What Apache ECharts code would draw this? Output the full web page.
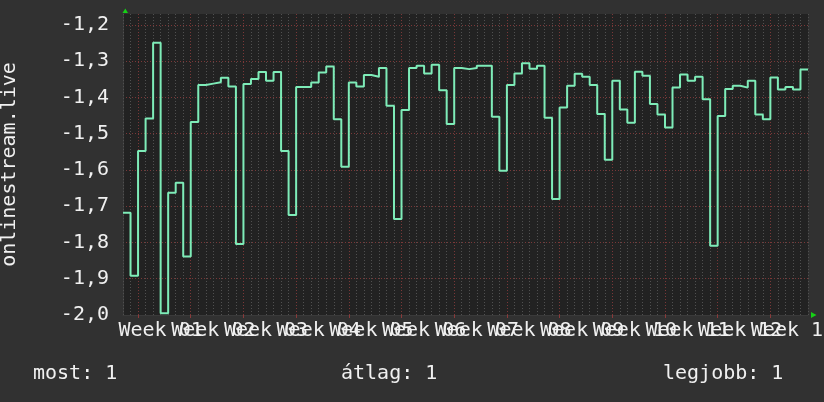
<!DOCTYPE html>
<html>
<head>
<meta charset="utf-8">
<script src="https://cdn.jsdelivr.net/npm/echarts@6/dist/echarts.min.js"></script>
<style>
  html, body { margin: 0; padding: 0; background: #313131; }
  #chart { width: 824px; height: 402px; }
</style>
</head>
<body>
<div id="chart"></div>
<script>
// ---- data ----
// day boundaries (92 boundaries for 91 daily samples)
const days = Array.from({ length: 92 }, (_, i) => String(i));
// weekly labels
const weekLabels = ['Week 01', 'Week 02', 'Week 03', 'Week 04', 'Week 05', 'Week 06', 'Week 07',
  'Week 08', 'Week 09', 'Week 10', 'Week 11', 'Week 12', 'Week 13'];
// daily values
const values = [
  -1.718, -1.892, -1.548, -1.458, -1.249, -1.995, -1.663, -1.635, -1.839, -1.468,
  -1.366, -1.362, -1.358, -1.346, -1.370, -1.804, -1.363, -1.349, -1.330, -1.354,
  -1.330, -1.548, -1.724, -1.371, -1.371, -1.359, -1.331, -1.315, -1.460, -1.591,
  -1.359, -1.370, -1.338, -1.343, -1.319, -1.423, -1.735, -1.435, -1.319, -1.313,
  -1.334, -1.310, -1.380, -1.473, -1.319, -1.322, -1.319, -1.313, -1.313, -1.453,
  -1.602, -1.366, -1.334, -1.306, -1.321, -1.313, -1.456, -1.680, -1.428, -1.368,
  -1.335, -1.343, -1.366, -1.446, -1.572, -1.354, -1.433, -1.470, -1.329, -1.340,
  -1.418, -1.447, -1.483, -1.373, -1.337, -1.354, -1.343, -1.405, -1.809, -1.451,
  -1.377, -1.368, -1.373, -1.354, -1.447, -1.460, -1.345, -1.378, -1.371, -1.378,
  -1.323
];
// y axis ticks
const yMin = -2.0, yMax = -1.17, yStep = 0.1;
// footer texts
const footerLabels = ['most:', 'átlag:', 'legjobb:'];
const footerValues = ['1', '1', '1'];
const seriesName = 'onlinestream.live';

// ---- layout / style ----
const FONT = 'DejaVu Sans Mono';
const gridL = 123, gridT = 14, gridR = 808, gridB = 315;
const firstWeekIdx = 2, weekLen = 7, labelShift = 3;
const isMajor = (i) => i >= firstWeekIdx && (i - firstWeekIdx) % weekLen === 0;
// label sits mid-week; odd/even weeks go to separate axes so they never collide in layout
const weekOf = (i) => {
  const d = i - firstWeekIdx - labelShift;
  return d >= 0 && d % weekLen === 0 ? d / weekLen : -1;
};
const isLabelParity = (i, parity) => { const w = weekOf(i); return w >= 0 && w < weekLabels.length && w % 2 === parity; };

const chart = echarts.init(document.getElementById('chart'), null, { renderer: 'canvas' });

const stepData = values.concat([values[values.length - 1]]);

const labelStyle = {
  color: '#f0f0f0', fontFamily: FONT, fontSize: 20, margin: 6, align: 'center',
  formatter: (v) => weekLabels[weekOf(Number(v))] || ''
};

chart.setOption({
  backgroundColor: '#313131',
  animation: false,
  grid: {
    left: gridL, top: gridT, right: 824 - gridR, bottom: 402 - gridB,
    show: true, backgroundColor: '#222222', borderWidth: 0,
    containLabel: false, outerBoundsMode: 'none'
  },
  xAxis: [
    {
      type: 'category', data: days, boundaryGap: false,
      axisLine: { show: true, lineStyle: { color: '#3a3a3a', width: 1 } },
      axisTick: { show: true, length: 3, interval: (i) => isMajor(i), lineStyle: { color: '#8a3a3a' } },
      splitLine: { show: true, interval: (i) => isMajor(i),
        lineStyle: { color: '#7a3838', type: [1, 2], width: 1 } },
      axisLabel: Object.assign({ show: true, interval: (i) => isLabelParity(i, 0) }, labelStyle),
      z: 3
    },
    {
      type: 'category', data: days, boundaryGap: false, position: 'bottom',
      axisLine: { show: false }, axisTick: { show: false },
      axisLabel: Object.assign({ show: true, interval: (i) => isLabelParity(i, 1) }, labelStyle),
      splitLine: { show: true, interval: 0, lineStyle: { color: '#505050', type: [1, 2], width: 1 } },
      z: 1
    }
  ],
  yAxis: {
    type: 'value', min: yMin, max: yMax, interval: yStep,
    name: seriesName, nameLocation: 'middle', nameGap: 103, nameRotate: 90,
    nameTextStyle: { color: '#f0f0f0', fontFamily: FONT, fontSize: 20 },
    axisLine: { show: true, lineStyle: { color: '#3a3a3a' } },
    axisTick: { show: false },
    axisLabel: {
      color: '#f0f0f0', fontFamily: FONT, fontSize: 20, margin: 14,
      showMaxLabel: false,
      formatter: (v) => v.toFixed(1).replace('.', ',')
    },
    splitLine: { show: true, showMaxLine: false, showMinLine: false,
      lineStyle: { color: '#7a3838', type: [1, 2], width: 1 } }
  },
  series: [{
    name: seriesName, type: 'line', xAxisIndex: 0, data: stepData,
    step: 'end', symbol: 'none', showSymbol: false,
    lineStyle: { color: '#7eecb8', width: 2 },
    z: 5
  }],
  graphic: [
    { type: 'polygon', shape: { points: [[gridL - 0.5, gridT - 1], [gridL + 5, gridT - 1], [gridL + 2.3, gridT - 5.5]] },
      style: { fill: '#16d016' }, z: 10 },
    { type: 'polygon', shape: { points: [[gridR + 3, gridB - 3], [gridR + 3, gridB + 3], [gridR + 8.5, gridB]] },
      style: { fill: '#16d016' }, z: 10 },
    { type: 'text', left: 33, top: 364,
      style: { text: footerLabels[0] + ' ' + footerValues[0], fill: '#f0f0f0', font: '20px "' + FONT + '"' } },
    { type: 'text', left: 341, top: 364,
      style: { text: footerLabels[1] + ' ' + footerValues[1], fill: '#f0f0f0', font: '20px "' + FONT + '"' } },
    { type: 'text', left: 663, top: 364,
      style: { text: footerLabels[2] + ' ' + footerValues[2], fill: '#f0f0f0', font: '20px "' + FONT + '"' } }
  ]
});
</script>
</body>
</html>
